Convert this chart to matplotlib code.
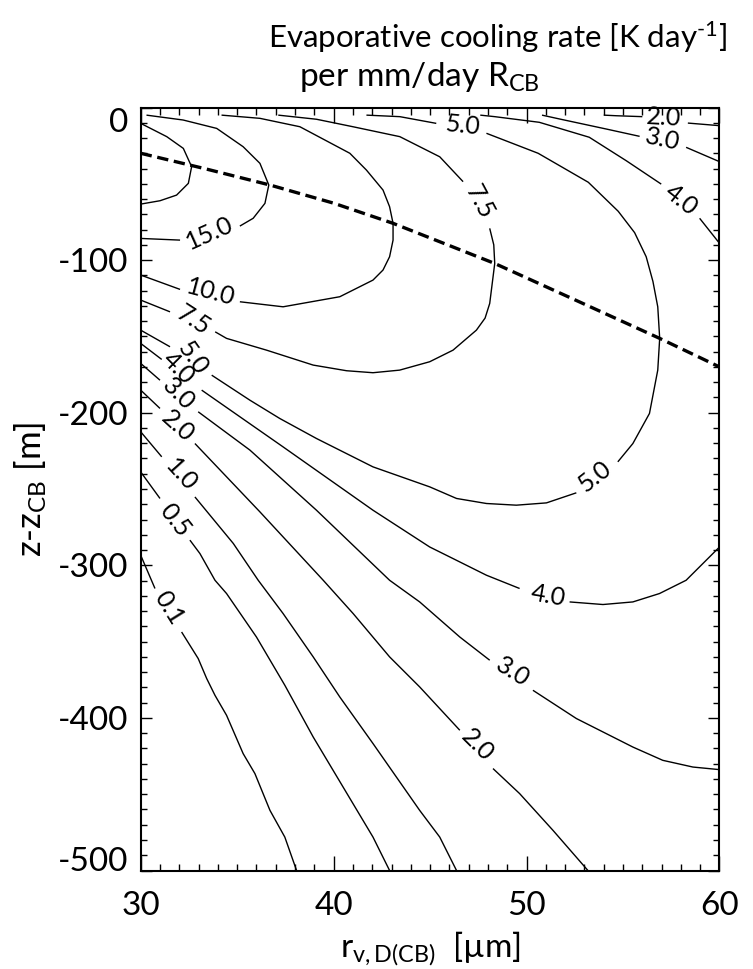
import numpy as np
import matplotlib
matplotlib.use("Agg")
import matplotlib.pyplot as plt
from matplotlib.ticker import MultipleLocator

FONT = "Lato"
plt.rcParams["font.family"] = [FONT, "DejaVu Sans"]
plt.rcParams["mathtext.fontset"] = "custom"
plt.rcParams["mathtext.rm"] = FONT
plt.rcParams["mathtext.it"] = FONT + ":italic"
plt.rcParams["mathtext.bf"] = FONT + ":bold"
plt.rcParams["axes.unicode_minus"] = False

N = np.nan

# ---------------- data ----------------
x_ticks = [30, 40, 50, 60]
x_ticklabels = ["30", "40", "50", "60"]
y_ticks = [0, -100, -200, -300, -400, -500]
y_ticklabels = ["0", "-100", "-200", "-300", "-400", "-500"]

# contour lines: x = r_v,D(CB) [um], z = z - z_CB [m]; NaN marks a label gap
c20_x = [30.0, 31.35, 32.21, 32.64, 32.47, 31.86, 31.0, 30.0]
c20_z = [-10.4, -19.1, -26.8, -38.8, -49.7, -57.4, -61.1, -63.3]

c15_x = [30.3, 32.2, 33.94, 35.31, 36.18, 36.64, 36.44, 35.83, 35.14, N, 32.04, 30.0]
c15_z = [-5.0, -8.2, -13.7, -25.7, -36.6, -50.8, -62.8, -72.6, -77.7, N, -86.9, -85.8]

c10_x = [34.19, 36.18, 38.25, 40.84, 41.7, 42.56, 42.9, 43.08, 43.08, 42.9, 42.56, 42.04, 40.32, 37.38, 35.14,
         N, 32.04, 30.0]
c10_z = [-5.0, -7.1, -12.6, -30.0, -41.0, -54.1, -65.0, -75.9, -86.9, -97.8, -106.5, -113.1, -124.0, -130.6, -127.3,
         N, -119.2, -109.8]

c75_x = [37.13, 39.11, 41.0, 43.43, 45.5, 46.71, N, 48.09, 48.3, 48.35, 48.09, 47.85, 47.4, 46.19, 44.98, 43.42,
         42.04, 40.67, 38.94, 36.52, 34.45, 33.86, N, 31.52, 30.0]
c75_z = [-5.0, -7.7, -12.6, -19.1, -32.3, -48.6, N, -79.2, -90.0, -102.2, -128.4, -138.0, -145.9, -159.0, -166.6, -172.1,
         -173.8, -172.5, -168.8, -159.0, -151.3, -147.0, N, -133.9, -126.2]

c50_x = [41.7, 43.43, 45.32, N, 47.92, 50.6, 53.2, 54.75, 55.6, 56.2, 56.55, 56.8, 56.9, 56.8, 56.37, 55.51, 54.73, N,
         52.58, 51.03, 49.47, 47.92, 46.37, 44.98, 42.04, 39.11, 37.21, 35.66, 33.68, N, 31.52, 30.0]
c50_z = [-5.0, -6.0, -10.4, N, -16.9, -30.0, -49.0, -68.0, -82.0, -97.8, -114.0, -130.6, -151.3, -172.1, -200.5, -220.2, -232.2, N,
         -252.5, -259.1, -260.6, -259.5, -256.2, -248.6, -235.5, -216.9, -203.8, -191.8, -175.4, N, -156.8, -145.9]

c40a_x = [47.6, 48.35, 50.66, 53.25, 55.17, 56.98, N, 58.97, 60.0]
c40a_z = [-5.0, -6.0, -9.7, -19.5, -34.9, -50.2, N, -72.6, -89.0]

c40b_x = [30.0, 31.09, N, 33.16, 37.38, 42.04, 44.98, 46.19, 47.92, 49.64, N,
          52.23, 53.96, 55.51, 56.89, 58.27, 60.0]
c40b_z = [-154.6, -165.1, N, -185.2, -222.4, -263.9, -288.0, -295.6, -306.5, -315.2, N,
          -324.0, -325.7, -324.0, -318.5, -309.8, -288.0]

c30a_x = [50.8, 51.7, 54.13, 55.86, N, 58.27, 60.0]
c30a_z = [-5.0, -7.5, -14.1, -18.9, N, -26.1, -35.5]

c30b_x = [30.0, 31.0, N, 32.98, 35.66, 39.11, 42.9, 44.46, 46.54, 48.09, N,
          50.33, 52.58, 55.51, 57.06, 58.62, 60.0]
c30b_z = [-167.7, -178.7, N, -199.4, -224.5, -263.9, -309.8, -324.0, -347.0, -362.2, N,
          -381.9, -400.4, -419.1, -427.8, -432.2, -433.9]

c20a_x = [54.0, 54.65, 56.0, N, 58.36, 60.0]
c20a_z = [-5.0, -5.4, -6.0, N, -10.2, -11.9]

c20b_x = [30.0, 31.0, N, 32.81, 36.18, 39.46, 41.01, 42.9, 44.46, 46.54, N, 48.26, 49.64, 51.37, 53.18]
c20b_z = [-185.2, -197.2, N, -220.2, -265.0, -309.8, -331.6, -360.0, -379.7, -408.1, N, -433.2, -449.6, -473.7, -500.0]

c10b_x = [30.0, 31.09, N, 32.81, 34.8, 36.09, 37.38, 38.94, 40.32, 42.04, 44.46, 45.5, 46.37]
c10b_z = [-212.5, -228.9, N, -255.2, -285.7, -309.8, -331.6, -360.0, -386.3, -416.8, -460.6, -478.1, -500.0]

c05_x = [30.0, 31.0, N, 32.55, 33.07, 33.85, 34.45, 36.0, 37.47, 38.94, 40.49, 42.04, 42.9]
c05_z = [-238.8, -256.2, N, -283.5, -292.3, -309.8, -318.5, -347.0, -378.6, -412.5, -445.3, -478.1, -500.0]

c01_x = [30.0, 30.74, N, 32.12, 32.98, 33.42, 33.85, 34.45, 35.31, 35.92, 36.7, 37.47, 38.08]
c01_z = [-293.4, -315.2, N, -343.7, -361.1, -374.2, -385.2, -398.3, -423.4, -436.5, -460.6, -478.1, -500.0]

# contour labels
label_text = ["15.0", "10.0", "7.5", "7.5", "5.0", "5.0", "5.0", "4.0", "4.0", "4.0",
              "3.0", "3.0", "3.0", "2.0", "2.0", "2.0", "1.0", "0.5", "0.1"]
label_x = [33.59, 33.64, 32.72, 47.57, 46.7, 53.53, 32.7, 58.0, 31.95, 51.11,
           57.06, 31.98, 49.3, 57.1, 31.9, 47.48, 32.1, 31.8, 31.45]
label_z = [-82.5, -121.0, -139.3, -61.8, -11.5, -242.0, -164.0, -60.5, -171.0, -319.6,
           -21.0, -187.5, -370.0, -6.4, -208.5, -418.0, -241.0, -270.5, -328.0]
label_rot = [24, -15, -33, -62, -6, 38, -55, -38, -45, -10,
             -12, -45, -32, -3, -42, -45, -48, -52, -58]

# dashed line
dash_x = [30.0, 33.3, 36.7, 40.0, 43.08, 48.35, 52.5, 56.9, 60.0]
dash_z = [-30.0, -40.0, -50.8, -62.7, -75.9, -102.2, -126.0, -151.3, -170.0]

# ---------------- figure ----------------
fig = plt.figure(figsize=(7.53, 9.69), dpi=100)
ax = fig.add_axes([0.18685, 0.10165, 0.76866, 0.78741])

contours = [(c20_x, c20_z), (c15_x, c15_z), (c10_x, c10_z), (c75_x, c75_z), (c50_x, c50_z),
            (c40a_x, c40a_z), (c40b_x, c40b_z), (c30a_x, c30a_z), (c30b_x, c30b_z),
            (c20a_x, c20a_z), (c20b_x, c20b_z), (c10b_x, c10b_z), (c05_x, c05_z), (c01_x, c01_z)]
for cx, cz in contours:
    ax.plot(cx, cz, color="black", lw=1.0, solid_capstyle="butt", solid_joinstyle="round")

for t, lx, lz, r in zip(label_text, label_x, label_z, label_rot):
    ax.text(lx, lz, t, rotation=r, rotation_mode="anchor", ha="center", va="center",
            fontsize=18, color="black")

ax.plot(dash_x, dash_z, color="black", lw=2.4, dashes=(3.4, 1.7))

ax.set_xlim(30, 60)
ax.set_ylim(-500, 0)
ax.set_xticks(x_ticks)
ax.set_xticklabels(x_ticklabels)
ax.set_yticks(y_ticks)
ax.set_yticklabels(y_ticklabels)
ax.xaxis.set_minor_locator(MultipleLocator(1))
ax.yaxis.set_minor_locator(MultipleLocator(10))

ax.tick_params(axis="both", which="both", direction="in", top=True, right=True,
               labelsize=24, width=1.0, color="black")
ax.tick_params(axis="x", which="major", length=10.6, pad=15)
ax.tick_params(axis="x", which="minor", length=5.3)
ax.tick_params(axis="y", which="major", length=7.9, pad=9)
ax.tick_params(axis="y", which="minor", length=4.0)
for s in ax.spines.values():
    s.set_linewidth(1.5)

ylabs = ax.get_yticklabels()
ylabs[0].set_va("top")
ylabs[-1].set_va("baseline")

ax.set_xlabel("r$_{\\rm v,D(CB)}$  [\u00b5m]", fontsize=24, labelpad=6)
ax.set_ylabel("z-z$_{\\rm CB}$ [m]", fontsize=25, labelpad=6)

fig.text(268 / 753, 1 - 48 / 969, "Evaporative cooling rate [K day$^{\\text{-1}}$]",
         ha="left", va="baseline", fontsize=22.5)
fig.text(299 / 753, 1 - 86 / 969, "per mm/day R$_{\\rm CB}$",
         ha="left", va="baseline", fontsize=24)

fig.savefig("out.png", dpi=100)
